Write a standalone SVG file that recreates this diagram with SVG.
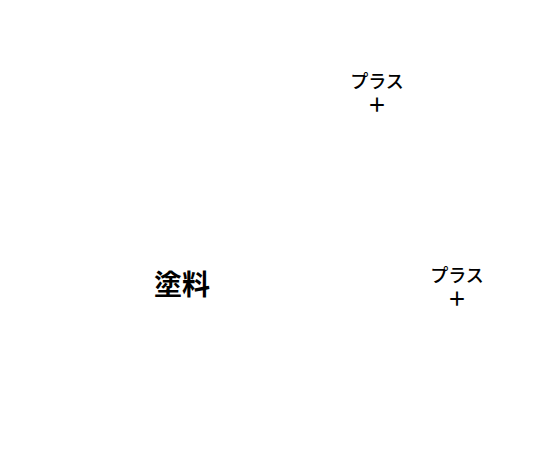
<svg xmlns="http://www.w3.org/2000/svg" width="548" height="468" viewBox="0 0 548 468">
<style>
text{font-family:"Noto Sans CJK JP","Noto Sans",sans-serif;fill:#000;text-anchor:middle;dominant-baseline:central}
.lbl{font-size:18px;font-weight:500}
.plus{font-size:19px;font-weight:bold}
.main{font-size:28px;font-weight:bold}
</style>
<rect width="548" height="468" fill="#fff"/>
<g id="node-paint"><text class="main" x="182" y="283">塗料</text></g>
<g id="node-plus1"><text class="lbl" x="377" y="80">プラス</text><text class="plus" x="377" y="103">＋</text></g>
<g id="node-plus2"><text class="lbl" x="457" y="274">プラス</text><text class="plus" x="457" y="297">＋</text></g>
<g id="connectors"></g>
</svg>
